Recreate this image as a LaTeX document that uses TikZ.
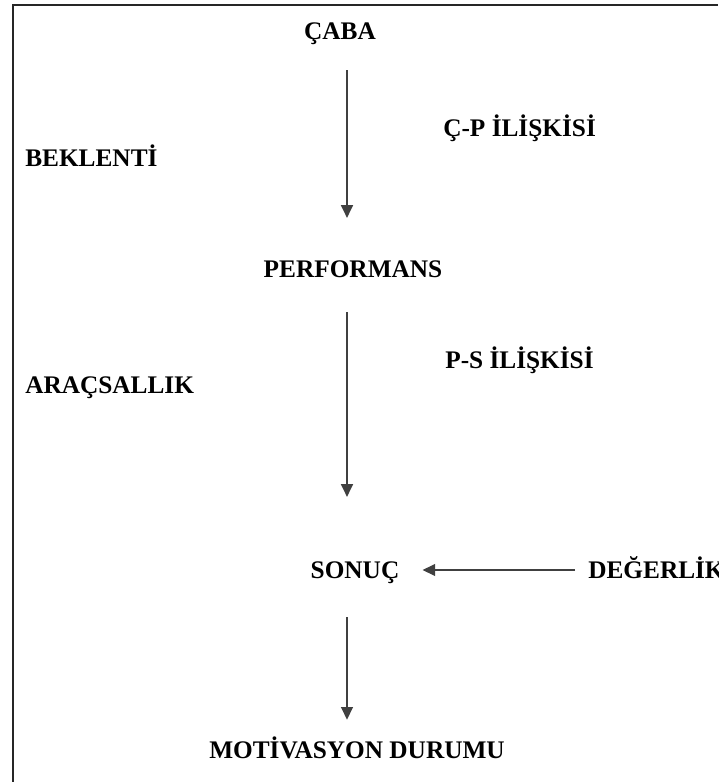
\documentclass[tikz,border=0pt]{standalone}
\usepackage{fontspec}
\setmainfont{Liberation Serif}
\usetikzlibrary{arrows.meta}

\begin{document}
\begin{tikzpicture}[
    >={Triangle[width=8.5pt,length=9pt]},
    term/.style={
        inner sep=0pt, text height=12pt, text depth=0pt,
        font=\fontsize{18}{21}\selectfont\bfseries
    },
    flow/.style={->, line width=0.9pt, draw=black!75},
    frame/.style={line width=1.3pt, draw=black!85},
]
\useasboundingbox (0,0) rectangle (17.95,-19.55);

% ── Frame (top and left edge) ───────────────────────────────
\draw[frame] (17.95,-0.125) -- (0.325,-0.125) -- (0.325,-19.55);

% ── Main chain ──────────────────────────────────────────────
\node[term] (caba)  at (8.5, -0.775)   {ÇABA};
\node[term] (perf)  at (8.825, -6.725) {PERFORMANS};
\node[term] (sonuc) at (8.875, -14.25) {SONUÇ};
\node[term] (motiv) at (8.925, -18.75) {MOTİVASYON DURUMU};

% ── Side labels ─────────────────────────────────────────────
\node[term, anchor=west] (cp)  at (11.075, -3.2)  {Ç-P İLİŞKİSİ};
\node[term, anchor=west] (bek) at (0.625, -3.95)  {BEKLENTİ};
\node[term, anchor=west] (ps)  at (11.125, -9.0)  {P-S İLİŞKİSİ};
\node[term, anchor=west] (ara) at (0.625, -9.625) {ARAÇSALLIK};
\node[term, anchor=west] (deg) at (14.7, -14.25)  {DEĞERLİK};

% ── Arrows ──────────────────────────────────────────────────
\draw[flow, shorten <=0.76cm, shorten >=1.06cm]
    ([xshift=0.175cm]caba.south) -- ([xshift=0.175cm]caba.south |- perf.north);
\draw[flow, shorten <=0.86cm, shorten >=1.61cm]
    ([xshift=-0.15cm]perf.south) -- ([xshift=-0.15cm]perf.south |- sonuc.north);
\draw[flow, shorten <=0.96cm, shorten >=0.54cm]
    ([xshift=-0.2cm]sonuc.south) -- ([xshift=-0.2cm]sonuc.south |- motiv.north);
\draw[flow, shorten <=0.325cm, shorten >=0.575cm] (deg.west) -- (sonuc.east);

\end{tikzpicture}
\end{document}
